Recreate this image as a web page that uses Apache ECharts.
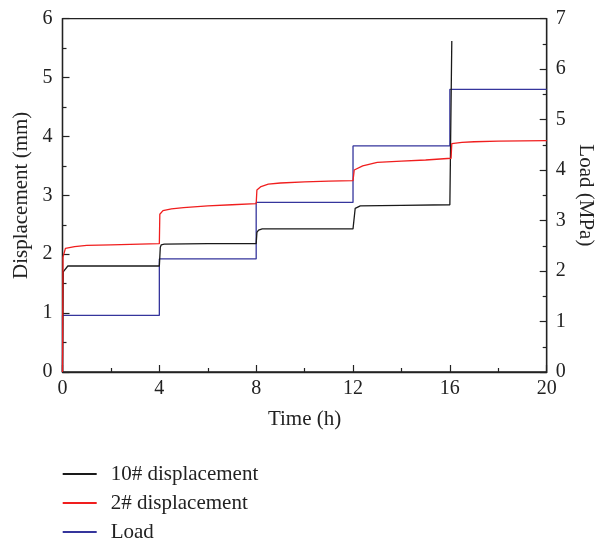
<!DOCTYPE html>
<html>
<head>
<meta charset="utf-8">
<script src="https://cdn.jsdelivr.net/npm/echarts@6/dist/echarts.min.js"></script>
<style>
  html, body { margin: 0; padding: 0; background: #fff; }
  #chart { width: 595px; height: 543px; }
</style>
</head>
<body>
<div id="chart"></div>
<script>
// Displacement of gauge 10# (mm) against time (h)
const time10 = [0, 0.03, 0.22, 2.0, 4.0, 4.04, 4.08, 4.2, 6.0, 8.0, 8.03, 8.1, 8.25, 10.0, 12.0, 12.09, 12.15, 12.3, 14.0, 16.0, 16.08, 16.08];
const disp10 = [0, 1.70, 1.80, 1.80, 1.80, 2.12, 2.16, 2.17, 2.18, 2.18, 2.37, 2.41, 2.43, 2.43, 2.43, 2.78, 2.81, 2.82, 2.83, 2.84, 2.85, 5.62];

// Displacement of gauge 2# (mm) against time (h)
const time2 = [0, 0.02, 0.12, 0.5, 1.0, 2.0, 4.0, 4.02, 4.15, 4.5, 5.0, 6.0, 7.0, 8.0, 8.03, 8.2, 8.5, 9.0, 10.0, 11.0, 12.0, 12.05, 12.4, 13.0, 14.0, 15.0, 16.05, 16.08, 16.5, 17.0, 18.0, 20.0];
const disp2 = [0, 1.95, 2.10, 2.13, 2.15, 2.16, 2.18, 2.68, 2.74, 2.77, 2.79, 2.82, 2.84, 2.86, 3.09, 3.15, 3.19, 3.21, 3.23, 3.24, 3.25, 3.43, 3.50, 3.56, 3.58, 3.60, 3.63, 3.88, 3.90, 3.91, 3.92, 3.93];

// Applied load (MPa) against time (h), stepped every 4 h
const timeLoad = [0, 0, 4, 4, 8, 8, 12, 12, 16, 16, 20];
const load = [0, 1.12, 1.12, 2.24, 2.24, 3.36, 3.36, 4.48, 4.48, 5.60, 5.60];

const seriesNames = ['10# displacement', '2# displacement', 'Load'];
const xTicks = { min: 0, max: 20, step: 4 };
const leftTicks = { min: 0, max: 6, step: 1 };
const rightTicks = { min: 0, max: 7, step: 1 };

const pairs = (xs, ys) => xs.map((x, i) => [x, ys[i]]);

const FONT = 'Liberation Serif';
const INK = '#222';

const axisCommon = {
  axisLine: { show: true, lineStyle: { color: INK, width: 1.3 } },
  axisTick: { show: true, inside: true, length: 7, lineStyle: { color: INK, width: 1.2 } },
  minorTick: { show: true, splitNumber: 2, length: 4, lineStyle: { color: INK, width: 1.2 } },
  splitLine: { show: false },
  minorSplitLine: { show: false },
  axisLabel: { color: INK, fontFamily: FONT, fontSize: 20 },
  nameTextStyle: { color: INK, fontFamily: FONT, fontSize: 21 },
  nameLocation: 'middle',
  nameMoveOverlap: false
};

const chart = echarts.init(document.getElementById('chart'), null, { renderer: 'canvas' });
chart.setOption({
  animation: false,
  backgroundColor: '#fff',
  grid: {
    left: 62.5, right: 48.3, top: 18.7, bottom: 171,
    outerBoundsMode: 'none',
    containLabel: false,
    show: true, borderColor: INK, borderWidth: 1.3
  },
  legend: {
    orient: 'vertical',
    left: 62.7,
    top: 463.5,
    height: 79,
    padding: 0,
    itemWidth: 34,
    itemHeight: 2,
    itemGap: 8,
    icon: 'rect',
    textStyle: { color: INK, fontFamily: FONT, fontSize: 21, lineHeight: 21, padding: [0, 0, 0, 9] },
    data: seriesNames
  },
  xAxis: Object.assign({}, axisCommon, {
    type: 'value',
    min: xTicks.min, max: xTicks.max, interval: xTicks.step,
    name: 'Time (h)',
    nameGap: 37,
    axisLabel: Object.assign({}, axisCommon.axisLabel, { margin: 7 })
  }),
  yAxis: [
    Object.assign({}, axisCommon, {
      type: 'value', position: 'left',
      min: leftTicks.min, max: leftTicks.max, interval: leftTicks.step,
      name: 'Displacement (mm)',
      nameGap: 31,
      axisLabel: Object.assign({}, axisCommon.axisLabel, { margin: 10 })
    }),
    Object.assign({}, axisCommon, {
      type: 'value', position: 'right',
      min: rightTicks.min, max: rightTicks.max, interval: rightTicks.step,
      name: 'Load (MPa)',
      nameGap: 28,
      nameRotate: -90,
      axisLabel: Object.assign({}, axisCommon.axisLabel, { margin: 9 })
    })
  ],
  series: [
    {
      name: seriesNames[0], type: 'line', yAxisIndex: 0, showSymbol: false, symbol: 'none',
      color: '#1a1a1a', lineStyle: { width: 1.3, color: '#1a1a1a' },
      data: pairs(time10, disp10), z: 3
    },
    {
      name: seriesNames[1], type: 'line', yAxisIndex: 0, showSymbol: false, symbol: 'none',
      color: '#f01e1e', lineStyle: { width: 1.3, color: '#f01e1e' },
      data: pairs(time2, disp2), z: 4
    },
    {
      name: seriesNames[2], type: 'line', yAxisIndex: 1, showSymbol: false, symbol: 'none',
      color: '#35359c', lineStyle: { width: 1.3, color: '#35359c' },
      data: pairs(timeLoad, load), z: 2
    }
  ]
});
</script>
</body>
</html>
